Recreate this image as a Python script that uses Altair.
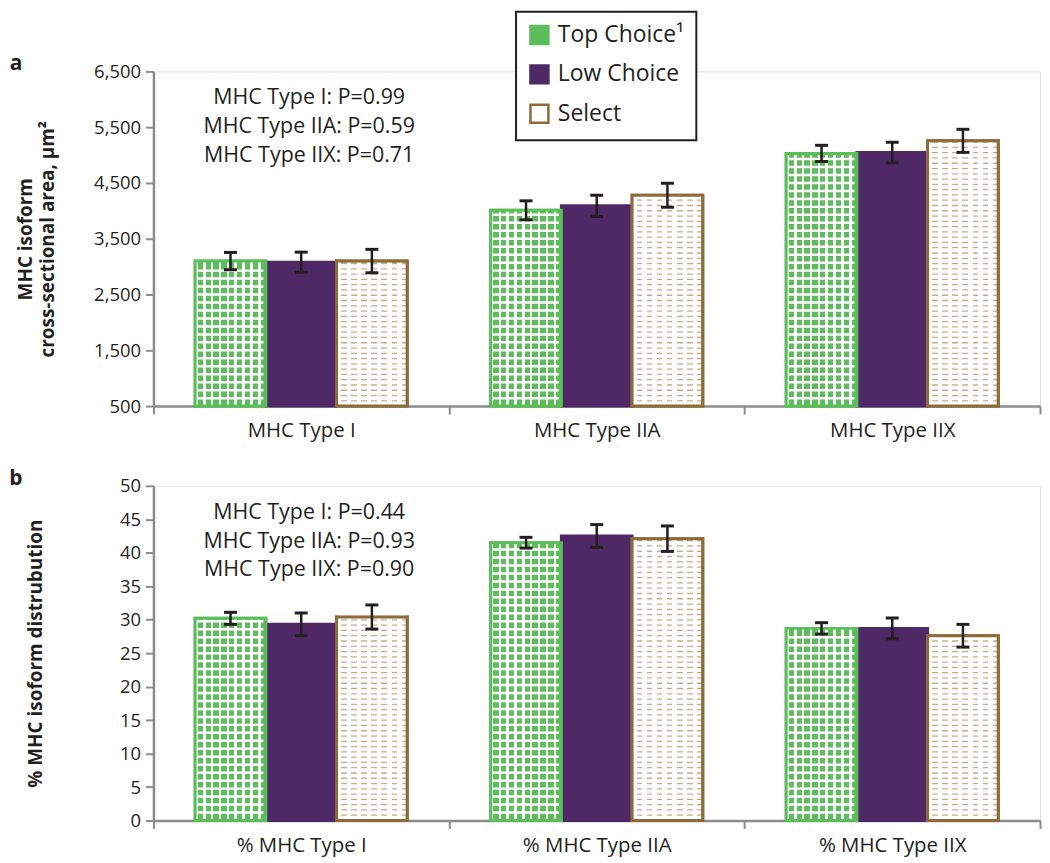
import altair as alt
import pandas as pd

# ---------------- data ----------------
grades = ["Top Choice\u00b9", "Low Choice", "Select"]

cats_a = ["MHC Type I", "MHC Type IIA", "MHC Type IIX"]
area_top = [3100, 4010, 5030]
area_top_err = [155, 170, 145]
area_low = [3080, 4090, 5045]
area_low_err = [180, 190, 185]
area_sel = [3100, 4280, 5255]
area_sel_err = [210, 215, 207]
ticks_a = [500, 1500, 2500, 3500, 4500, 5500, 6500]
ann_a = ["MHC Type I: P=0.99", "MHC Type IIA: P=0.59", "MHC Type IIX: P=0.71"]

cats_b = ["% MHC Type I", "% MHC Type IIA", "% MHC Type IIX"]
dist_top = [30.2, 41.5, 28.7]
dist_top_err = [0.9, 0.8, 0.85]
dist_low = [29.3, 42.5, 28.7]
dist_low_err = [1.7, 1.7, 1.55]
dist_sel = [30.4, 42.1, 27.6]
dist_sel_err = [1.8, 1.9, 1.7]
ticks_b = [0, 5, 10, 15, 20, 25, 30, 35, 40, 45, 50]
ann_b = ["MHC Type I: P=0.44", "MHC Type IIA: P=0.93", "MHC Type IIX: P=0.90"]

# ---------------- style ----------------
F = "Open Sans"
TXT = "#231f20"
AX = "#8c8c8c"
GREEN = "#5bbe5b"
PURPLE = "#4f2866"
BROWN = "#8f6b3a"
TAN = "#b39a70"
EB = "#231f20"


def make_df(cats, series):
    rows = []
    for g, (vals, errs) in zip(grades, series):
        for c, v, e in zip(cats, vals, errs):
            rows.append({"cat": c, "grade": g, "value": v, "lo": v - e, "hi": v + e})
    return pd.DataFrame(rows)


df_a = make_df(cats_a, [(area_top, area_top_err), (area_low, area_low_err), (area_sel, area_sel_err)])
df_b = make_df(cats_b, [(dist_top, dist_top_err), (dist_low, dist_low_err), (dist_sel, dist_sel_err)])


def stripes(c1, c2, n, frac):
    stops = []
    for i in range(n):
        a = i / n
        b = (i + frac) / n
        c = (i + 1) / n
        stops += [
            alt.GradientStop(color=c1, offset=a),
            alt.GradientStop(color=c1, offset=b),
            alt.GradientStop(color=c2, offset=b),
            alt.GradientStop(color=c2, offset=c),
        ]
    return alt.LinearGradient(gradient="linear", stops=stops, x1=0, x2=1, y1=0, y2=0)


grad_green = stripes("white", GREEN, 9, 0.32)
grad_tan = stripes("white", TAN, 7, 0.45)

fill_scale = alt.Scale(domain=grades, range=[GREEN, PURPLE, "white"])
stroke_scale = alt.Scale(domain=grades, range=[GREEN, PURPLE, BROWN])

W, H = 890, 336


def panel(df, cats, ticks, yfmt, ytitle, title_x, ann, letter, px_per_unit, legend):
    ymin, ymax = ticks[0], ticks[-1]
    x = alt.X(
        "cat:N", sort=cats,
        scale=alt.Scale(domain=cats, paddingInner=0, paddingOuter=0),
        axis=alt.Axis(title=None, tickBand="extent", labelAngle=0, labelFontSize=20.5,
                      labelFont=F, labelColor=TXT, labelPadding=7, tickSize=8,
                      domainColor=AX, tickColor=AX, domainWidth=2.5, tickWidth=2),
    )
    xo = alt.XOffset("grade:N", sort=grades,
                     scale=alt.Scale(domain=grades, paddingInner=0, paddingOuter=0.59))
    y = alt.Y(
        "value:Q",
        scale=alt.Scale(domain=[ymin, ymax], nice=False, zero=False),
        axis=alt.Axis(values=ticks, format=yfmt, title=ytitle, titleX=title_x, titleY=H / 2,
                      titleFontSize=19, titleFontWeight="bold", titleFont=F, titleColor=TXT,
                      titleLineHeight=22, titleAngle=-90, titleBaseline="bottom",
                      labelFontSize=18.5, labelFont=F, labelColor=TXT, labelPadding=5,
                      labelOverlap=False, tickCount=len(ticks),
                      tickSize=8, grid=False, domainColor=AX, tickColor=AX,
                      domainWidth=2.5, tickWidth=2),
    )
    y2 = alt.Y2(datum=ymin)

    base = alt.Chart(df)

    bars = base.mark_bar(strokeWidth=3).encode(
        x=x, xOffset=xo, y=y, y2=y2,
        fill=alt.Fill("grade:N", scale=fill_scale, legend=legend),
        stroke=alt.Stroke("grade:N", scale=stroke_scale, legend=legend),
    )

    pg = 8.0 / px_per_unit     # grid period
    pdsh = 5.3 / px_per_unit   # dash row period

    tc = base.transform_filter(alt.datum.grade == grades[0])
    tc_fill = tc.mark_bar(fill=grad_green, strokeWidth=0).encode(x=x, xOffset=xo, y=y, y2=y2)
    tc_lines = tc.transform_calculate(
        ly=f"sequence({ymin} + {pg}, datum.value - {pg * 0.3}, {pg})"
    ).transform_flatten(["ly"]).mark_tick(
        color="white", thickness=2.5, size=66, opacity=1
    ).encode(x=x, xOffset=xo, y=alt.Y("ly:Q"))
    tc_out = tc.mark_bar(fillOpacity=0, stroke=GREEN, strokeWidth=3).encode(
        x=x, xOffset=xo, y=y, y2=y2)

    sl = base.transform_filter(alt.datum.grade == grades[2])
    sl_fill = sl.mark_bar(fill=grad_tan, strokeWidth=0, opacity=0.8).encode(x=x, xOffset=xo, y=y, y2=y2)
    sl_lines = sl.transform_calculate(
        ly=f"sequence({ymin} + {pdsh * 0.5}, datum.value, {pdsh})"
    ).transform_flatten(["ly"]).mark_tick(
        color="white", thickness=4, size=68, opacity=1
    ).encode(x=x, xOffset=xo, y=alt.Y("ly:Q"))
    sl_out = sl.mark_bar(fillOpacity=0, stroke=BROWN, strokeWidth=3).encode(
        x=x, xOffset=xo, y=y, y2=y2)

    err_rule = base.mark_rule(color=EB, strokeWidth=2.5).encode(
        x=x, xOffset=xo, y=alt.Y("lo:Q"), y2=alt.Y2("hi:Q"))
    cap_lo = base.mark_tick(color=EB, thickness=3, size=13, opacity=1).encode(
        x=x, xOffset=xo, y=alt.Y("lo:Q"))
    cap_hi = base.mark_tick(color=EB, thickness=3, size=13, opacity=1).encode(
        x=x, xOffset=xo, y=alt.Y("hi:Q"))

    ann_df = pd.DataFrame({"cat": [cats[0]], "txt": ["\n".join(ann)]})
    annot = alt.Chart(ann_df).mark_text(
        lineBreak="\n", lineHeight=29, baseline="top", align="center",
        fontSize=21.5, font=F, color=TXT, dx=8, dy=16,
    ).encode(x=x, y=alt.datum(ymax), text="txt:N")

    let_df = pd.DataFrame({"t": [letter]})
    let_mark = alt.Chart(let_df).mark_text(
        fontSize=21, fontWeight="bold", font=F, color=TXT, align="center", baseline="middle"
    ).encode(text="t:N", x=alt.value(-138), y=alt.value(-7))

    return alt.layer(
        bars, tc_fill, tc_lines, tc_out, sl_fill, sl_lines, sl_out,
        err_rule, cap_lo, cap_hi, annot, let_mark,
    ).properties(width=W, height=H)


leg = alt.Legend(
    title=None, orient="none", legendX=364, legendY=-60, direction="vertical",
    fillColor="white", strokeColor="#231f20", padding=12, rowPadding=10.5,
    symbolType="square", symbolSize=324, symbolStrokeWidth=2.5,
    labelFontSize=23, labelFont=F, labelColor=TXT, labelOffset=7,
)

pa = panel(df_a, cats_a, ticks_a, ",d", ["MHC isoform", "cross-sectional area, \u00b5m\u00b2"],
           -118, ann_a, "a", H / (ticks_a[-1] - ticks_a[0]), leg)
pb = panel(df_b, cats_b, ticks_b, "d", "% MHC isoform distrubution",
           -108, ann_b, "b", H / (ticks_b[-1] - ticks_b[0]), None)

chart = alt.vconcat(pa, pb, spacing=25).resolve_scale(
    x="independent", y="independent", fill="independent", stroke="independent",
    xOffset="independent",
).resolve_legend(fill="independent", stroke="independent").properties(padding=0)

chart = chart.configure_view(stroke="transparent").configure(font=F)
try:
    tmp = chart.configure_legend(strokeWidth=2)
    tmp.to_dict()
    chart = tmp
except Exception:
    pass

chart.save("out.html", embed_options={"renderer": "svg", "actions": False})
